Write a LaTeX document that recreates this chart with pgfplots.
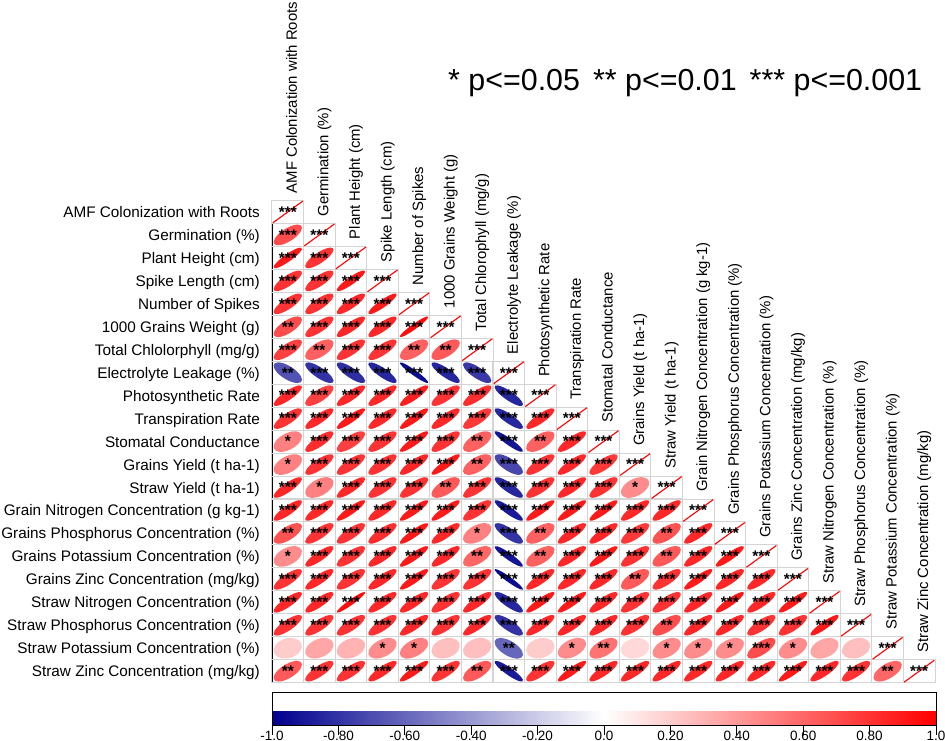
\documentclass[border=0pt]{standalone}
\usepackage{fontspec}
\setmainfont{Liberation Sans}
\usepackage{pgfplots}
\usepackage{pgfplotstable}
\pgfplotsset{compat=1.18}
\pgfdeclareplotmark{empty}{}
\definecolor{cellgray}{RGB}{212,212,212}
\pgfplotsset{colormap={corr}{rgb255(0cm)=(0,0,142) rgb255(1cm)=(255,255,255) rgb255(2cm)=(255,0,0)}}

\pgfplotstableread{
x y r p
0 19 0.70 3
0 18 0.90 3
1 18 0.80 3
0 17 0.80 3
1 17 0.80 3
2 17 0.90 3
0 16 0.80 3
1 16 0.80 3
2 16 0.85 3
3 16 0.90 3
0 15 0.70 2
1 15 0.80 3
2 15 0.85 3
3 15 0.85 3
4 15 0.95 3
0 14 0.75 3
1 14 0.62 2
2 14 0.80 3
3 14 0.80 3
4 14 0.62 2
5 14 0.65 2
0 13 -0.68 2
1 13 -0.80 3
2 13 -0.82 3
3 13 -0.85 3
4 13 -0.95 3
5 13 -0.85 3
6 13 -0.78 3
0 12 0.85 3
1 12 0.75 3
2 12 0.85 3
3 12 0.85 3
4 12 0.88 3
5 12 0.80 3
6 12 0.82 3
7 12 -0.85 3
0 11 0.80 3
1 11 0.85 3
2 11 0.90 3
3 11 0.85 3
4 11 0.90 3
5 11 0.85 3
6 11 0.78 3
7 11 -0.85 3
8 11 0.85 3
0 10 0.50 1
1 10 0.82 3
2 10 0.75 3
3 10 0.80 3
4 10 0.90 3
5 10 0.80 3
6 10 0.62 2
7 10 -0.92 3
8 10 0.62 2
9 10 0.85 3
0 9 0.50 1
1 9 0.80 3
2 9 0.80 3
3 9 0.80 3
4 9 0.85 3
5 9 0.90 3
6 9 0.62 2
7 9 -0.72 3
8 9 0.80 3
9 9 0.85 3
10 9 0.78 3
0 8 0.85 3
1 8 0.50 1
2 8 0.85 3
3 8 0.80 3
4 8 0.80 3
5 8 0.65 2
6 8 0.80 3
7 8 -0.85 3
8 8 0.80 3
9 8 0.85 3
10 8 0.80 3
11 8 0.45 1
0 7 0.85 3
1 7 0.85 3
2 7 0.90 3
3 7 0.85 3
4 7 0.90 3
5 7 0.90 3
6 7 0.80 3
7 7 -0.90 3
8 7 0.90 3
9 7 0.90 3
10 7 0.90 3
11 7 0.85 3
12 7 0.85 3
0 6 0.68 2
1 6 0.80 3
2 6 0.80 3
3 6 0.82 3
4 6 0.90 3
5 6 0.85 3
6 6 0.50 1
7 6 -0.80 3
8 6 0.62 2
9 6 0.85 3
10 6 0.85 3
11 6 0.78 3
12 6 0.68 2
13 6 0.85 3
0 5 0.45 1
1 5 0.85 3
2 5 0.80 3
3 5 0.85 3
4 5 0.90 3
5 5 0.85 3
6 5 0.60 2
7 5 -0.92 3
8 5 0.62 2
9 5 0.85 3
10 5 0.90 3
11 5 0.80 3
12 5 0.65 2
13 5 0.85 3
14 5 0.90 3
0 4 0.80 3
1 4 0.85 3
2 4 0.80 3
3 4 0.85 3
4 4 0.90 3
5 4 0.80 3
6 4 0.80 3
7 4 -0.95 3
8 4 0.85 3
9 4 0.85 3
10 4 0.85 3
11 4 0.65 2
12 4 0.80 3
13 4 0.90 3
14 4 0.85 3
15 4 0.85 3
0 3 0.85 3
1 3 0.85 3
2 3 0.95 3
3 3 0.85 3
4 3 0.85 3
5 3 0.80 3
6 3 0.85 3
7 3 -0.85 3
8 3 0.90 3
9 3 0.90 3
10 3 0.85 3
11 3 0.80 3
12 3 0.80 3
13 3 0.85 3
14 3 0.90 3
15 3 0.85 3
16 3 0.90 3
0 2 0.80 3
1 2 0.80 3
2 2 0.80 3
3 2 0.80 3
4 2 0.85 3
5 2 0.80 3
6 2 0.85 3
7 2 -0.80 3
8 2 0.85 3
9 2 0.85 3
10 2 0.85 3
11 2 0.80 3
12 2 0.70 2
13 2 0.85 3
14 2 0.85 3
15 2 0.80 3
16 2 0.80 3
17 2 0.90 3
0 1 0.20 0
1 1 0.35 0
2 1 0.30 0
3 1 0.45 1
4 1 0.50 1
5 1 0.25 0
6 1 0.25 0
7 1 -0.60 2
8 1 0.20 0
9 1 0.45 1
10 1 0.55 2
11 1 0.15 0
12 1 0.45 1
13 1 0.45 1
14 1 0.45 1
15 1 0.70 3
16 1 0.45 1
17 1 0.35 0
18 1 0.25 0
0 0 0.65 2
1 0 0.80 3
2 0 0.80 3
3 0 0.85 3
4 0 0.90 3
5 0 0.80 3
6 0 0.65 2
7 0 -0.90 3
8 0 0.80 3
9 0 0.90 3
10 0 0.85 3
11 0 0.85 3
12 0 0.85 3
13 0 0.85 3
14 0 0.85 3
15 0 0.85 3
16 0 0.90 3
17 0 0.85 3
18 0 0.80 3
19 0 0.60 2
}\cells

\pgfplotstableread{
x y r p
0 20 1 3
1 19 1 3
2 18 1 3
3 17 1 3
4 16 1 3
5 15 1 3
6 14 1 3
7 13 1 3
8 12 1 3
9 11 1 3
10 10 1 3
11 9 1 3
12 8 1 3
13 7 1 3
14 6 1 3
15 5 1 3
16 4 1 3
17 3 1 3
18 2 1 3
19 1 1 3
20 0 1 3
}\diag

\pgfplotsset{starplot/.style={only marks, mark=empty,
  nodes near coords style={anchor=center, inner sep=0pt, text=black, font=\bfseries\fontsize{15.4}{15.4}\selectfont}}}

\begin{document}
\begin{tikzpicture}
\path[use as bounding box] (0,0) rectangle (945pt,741pt);
\node[anchor=base west, inner sep=0pt, font=\fontsize{30.4}{30.4}\selectfont] at (448pt,650.3pt)
  {* p<=0.05\hspace{13pt}** p<=0.01\hspace{13pt}*** p<=0.001};
\begin{axis}[
  at={(272pt,58.3pt)}, anchor=south west,
  scale only axis, width=663pt, height=482.2pt,
  xmin=-0.5, xmax=20.5, ymin=-0.5, ymax=20.5,
  clip=false,
  axis line style={draw=none},
  xtick=\empty,
  ytick={0,...,20},
  yticklabels={Straw Zinc Concentration (mg/kg),
    Straw Potassium Concentration (\%),
    Straw Phosphorus Concentration (\%),
    Straw Nitrogen Concentration (\%),
    Grains Zinc Concentration (mg/kg),
    Grains Potassium Concentration (\%),
    Grains Phosphorus Concentration (\%),
    Grain Nitrogen Concentration (g kg-1),
    Straw Yield (t ha-1),
    Grains Yield (t ha-1),
    Stomatal Conductance,
    Transpiration Rate,
    Photosynthetic Rate,
    Electrolyte Leakage (\%),
    Total Chlolorphyll (mg/g),
    1000 Grains Weight (g),
    Number of Spikes,
    Spike Length (cm),
    Plant Height (cm),
    Germination (\%),
    AMF Colonization with Roots},
  major tick length=0pt,
  yticklabel style={font=\fontsize{15.3}{15.3}\selectfont, anchor=base east, inner sep=0pt, xshift=-12pt, yshift=-5.5pt},
  colormap name=corr,
  point meta min=-1, point meta max=1,
  colorbar horizontal,
  colorbar style={
    at={(parent axis.south west)}, anchor=north west, yshift=-1.3pt,
    scale only axis, width=664pt, height=32.7pt,
    xtick={-1,-0.8,-0.6,-0.4,-0.2,0,0.2,0.4,0.6,0.8,1},
    xticklabels={-1.0,-0.80,-0.60,-0.40,-0.20,0.0,0.20,0.40,0.60,0.80,1.0},
    xticklabel style={font=\fontsize{13.5}{13.5}\selectfont, inner sep=0pt, anchor=north, yshift=4pt},
    xtick pos=bottom, xticklabel pos=lower,
    tick align=outside, major tick length=10pt,
    tick style={black, line width=0.9pt},
    axis line style={draw=black, line width=1pt},
    ytick=\empty,
  },
]
% ellipses
\addplot[scatter, only marks, mark=empty, point meta=explicit,
  visualization depends on={\thisrow{r}\as\rr},
  scatter/@pre marker code/.code={%
    \pgfplotscolormapdefinemappedcolor{\pgfplotspointmetatransformed}%
    \pgfmathsetmacro\ra{sqrt(1+\rr)}%
    \pgfmathsetmacro\rb{sqrt(max(1-\rr,0.0001))}%
    \pgfmathsetmacro\vax{14.2*0.70711*\ra}%
    \pgfmathsetmacro\vay{10.33*0.70711*\ra}%
    \pgfmathsetmacro\vbx{-14.2*0.70711*\rb}%
    \pgfmathsetmacro\vby{10.33*0.70711*\rb}%
    \draw[cellgray, line width=1pt] (-15.79pt,-11.48pt) rectangle (15.79pt,11.48pt);
    \pgfpathellipse{\pgfpointorigin}{\pgfpoint{\vax pt}{\vay pt}}{\pgfpoint{\vbx pt}{\vby pt}}%
    \pgfsetfillcolor{mapped color}%
    \pgfusepath{fill}%
  },
  scatter/@post marker code/.code={},
] table[x=x, y=y, meta=r] {\cells};
% diagonal
\addplot[scatter, only marks, mark=empty, point meta=explicit,
  scatter/@pre marker code/.code={%
    \draw[cellgray, line width=1pt] (-15.79pt,-11.48pt) rectangle (15.79pt,11.48pt);
    \draw[red, line width=1.1pt] (-15pt,-10.9pt) -- (15pt,10.9pt);
  },
  scatter/@post marker code/.code={},
] table[x=x, y=y, meta=r] {\diag};
% stars
\addplot[starplot, nodes near coords={*},
  x filter/.expression={\thisrow{p}==1 ? x : nan}] table[x=x, y=y] {\cells};
\addplot[starplot, nodes near coords={**},
  x filter/.expression={\thisrow{p}==2 ? x : nan}] table[x=x, y=y] {\cells};
\addplot[starplot, nodes near coords={***},
  x filter/.expression={\thisrow{p}==3 ? x : nan}] table[x=x, y=y] {\cells};
\addplot[starplot, nodes near coords={***}] table[x=x, y=y] {\diag};
\draw[black, line width=1.6pt] (axis cs:-0.5,19.5) -- (axis cs:-0.5,-0.5);
% column labels
\tikzset{collab/.style={rotate=90, anchor=base west, inner sep=0pt, font=\fontsize{14.9}{14.9}\selectfont}}
\node[collab] at ([xshift=9pt,yshift=7pt]axis cs:0,20.5) {AMF Colonization with Roots};
\node[collab] at ([xshift=9pt,yshift=7pt]axis cs:1,19.5) {Germination (\%)};
\node[collab] at ([xshift=9pt,yshift=7pt]axis cs:2,18.5) {Plant Height (cm)};
\node[collab] at ([xshift=9pt,yshift=7pt]axis cs:3,17.5) {Spike Length (cm)};
\node[collab] at ([xshift=9pt,yshift=7pt]axis cs:4,16.5) {Number of Spikes};
\node[collab] at ([xshift=9pt,yshift=7pt]axis cs:5,15.5) {1000 Grains Weight (g)};
\node[collab] at ([xshift=9pt,yshift=7pt]axis cs:6,14.5) {Total Chlorophyll (mg/g)};
\node[collab] at ([xshift=9pt,yshift=7pt]axis cs:7,13.5) {Electrolyte Leakage (\%)};
\node[collab] at ([xshift=9pt,yshift=7pt]axis cs:8,12.5) {Photosynthetic Rate};
\node[collab] at ([xshift=9pt,yshift=7pt]axis cs:9,11.5) {Transpiration Rate};
\node[collab] at ([xshift=9pt,yshift=7pt]axis cs:10,10.5) {Stomatal Conductance};
\node[collab] at ([xshift=9pt,yshift=7pt]axis cs:11,9.5) {Grains Yield (t ha-1)};
\node[collab] at ([xshift=9pt,yshift=7pt]axis cs:12,8.5) {Straw Yield (t ha-1)};
\node[collab] at ([xshift=9pt,yshift=7pt]axis cs:13,7.5) {Grain Nitrogen Concentration (g kg-1)};
\node[collab] at ([xshift=9pt,yshift=7pt]axis cs:14,6.5) {Grains Phosphorus Concentration (\%)};
\node[collab] at ([xshift=9pt,yshift=7pt]axis cs:15,5.5) {Grains Potassium Concentration (\%)};
\node[collab] at ([xshift=9pt,yshift=7pt]axis cs:16,4.5) {Grains Zinc Concentration (mg/kg)};
\node[collab] at ([xshift=9pt,yshift=7pt]axis cs:17,3.5) {Straw Nitrogen Concentration (\%)};
\node[collab] at ([xshift=9pt,yshift=7pt]axis cs:18,2.5) {Straw Phosphorus Concentration (\%)};
\node[collab] at ([xshift=9pt,yshift=7pt]axis cs:19,1.5) {Straw Potassium Concentration (\%)};
\node[collab] at ([xshift=9pt,yshift=7pt]axis cs:20,0.5) {Straw Zinc Concentration (mg/kg)};
\end{axis}
\end{tikzpicture}
\end{document}
